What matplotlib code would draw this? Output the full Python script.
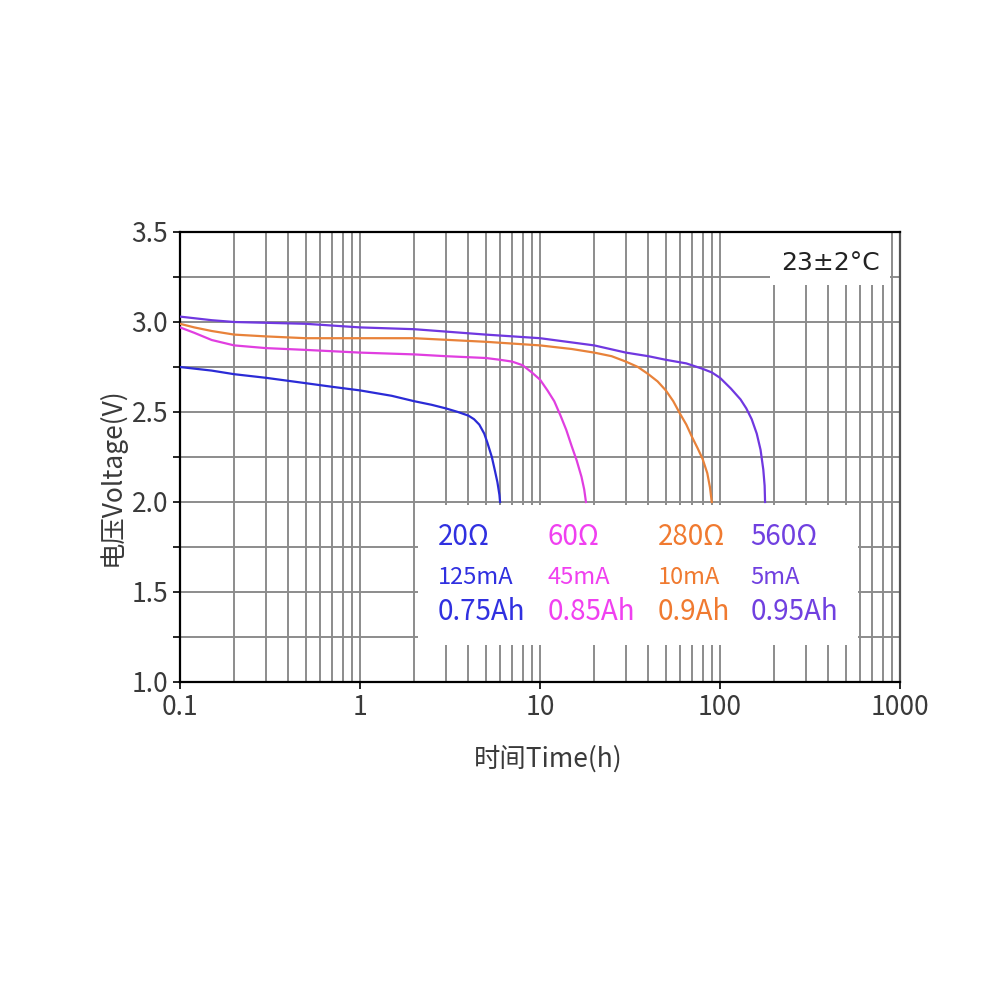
import numpy as np
import matplotlib
matplotlib.use("Agg")
import matplotlib.pyplot as plt
from matplotlib.patches import Rectangle
from matplotlib.ticker import FixedLocator, LogLocator, NullFormatter

plt.rcParams["font.family"] = ["Noto Sans CJK SC", "DejaVu Sans"]
plt.rcParams["axes.unicode_minus"] = False

# 放电曲线 (时间 h, 电压 V)
t_20 = [0.1, 0.15, 0.2, 0.3, 0.5, 0.7, 1, 1.5, 2, 2.5, 3, 3.5, 4, 4.3, 4.6, 4.9,
        5.1, 5.4, 5.6, 5.8, 5.95, 6.0]
v_20 = [2.75, 2.73, 2.71, 2.69, 2.66, 2.64, 2.62, 2.59, 2.56, 2.54, 2.52, 2.50, 2.48,
        2.46, 2.43, 2.38, 2.33, 2.25, 2.18, 2.11, 2.04, 2.0]

t_60 = [0.1, 0.12, 0.15, 0.2, 0.3, 0.5, 1, 2, 3, 5, 6, 7, 8, 9, 10, 11, 12, 13, 14,
        15, 16, 17, 17.6, 18]
v_60 = [2.97, 2.94, 2.90, 2.87, 2.855, 2.845, 2.83, 2.82, 2.81, 2.80, 2.79, 2.78, 2.76,
        2.72, 2.68, 2.62, 2.56, 2.48, 2.40, 2.31, 2.23, 2.14, 2.07, 2.0]

t_280 = [0.1, 0.12, 0.15, 0.2, 0.3, 0.5, 1, 2, 5, 10, 15, 20, 25, 30, 35, 40, 45, 50,
         55, 60, 65, 70, 75, 80, 85, 88, 90]
v_280 = [2.99, 2.97, 2.95, 2.93, 2.92, 2.91, 2.91, 2.91, 2.89, 2.87, 2.85, 2.83, 2.81,
         2.78, 2.75, 2.71, 2.67, 2.62, 2.56, 2.49, 2.43, 2.36, 2.30, 2.24, 2.16, 2.08, 2.0]

t_560 = [0.1, 0.15, 0.2, 0.5, 1, 2, 5, 10, 20, 30, 40, 50, 65, 80, 90, 100, 115, 130,
         140, 150, 160, 168, 174, 177, 178]
v_560 = [3.03, 3.01, 3.00, 2.99, 2.97, 2.96, 2.93, 2.91, 2.87, 2.83, 2.81, 2.79, 2.77,
         2.74, 2.72, 2.69, 2.63, 2.57, 2.52, 2.46, 2.38, 2.29, 2.18, 2.09, 2.0]

curve_colors = ["#2b2bd6", "#e03ee0", "#e8823a", "#7038e0"]
text_colors = ["#3030e0", "#f040f0", "#f07a30", "#7040e0"]
resist = ["20Ω", "60Ω", "280Ω", "560Ω"]
current = ["125mA", "45mA", "10mA", "5mA"]
capacity = ["0.75Ah", "0.85Ah", "0.9Ah", "0.95Ah"]

fig = plt.figure(figsize=(10, 10), dpi=100)
ax = fig.add_axes([0.18, 0.318, 0.72, 0.45])

ax.set_xscale("log")
ax.set_xlim(0.1, 1000)
ax.set_ylim(1.0, 3.5)

ax.xaxis.set_major_locator(FixedLocator([0.1, 1, 10, 100, 1000]))
ax.set_xticklabels(["0.1", "1", "10", "100", "1000"])
ax.xaxis.set_minor_locator(LogLocator(base=10, subs=np.arange(2, 10)))
ax.xaxis.set_minor_formatter(NullFormatter())
ax.yaxis.set_major_locator(FixedLocator([1.0, 1.5, 2.0, 2.5, 3.0, 3.5]))
ax.set_yticklabels(["1.0", "1.5", "2.0", "2.5", "3.0", "3.5"])
ax.yaxis.set_minor_locator(FixedLocator([1.25, 1.75, 2.25, 2.75, 3.25]))

ax.set_axisbelow(True)
ax.grid(which="both", axis="x", color="#8c8c8c", linewidth=1.4)
ax.grid(which="both", axis="y", color="#8c8c8c", linewidth=1.4)

ax.tick_params(axis="both", which="major", labelsize=19, labelcolor="#3a3a3a",
               length=5, width=1.2, color="black", direction="out")
ax.tick_params(axis="y", which="minor", length=5, width=1.2, direction="out")
ax.tick_params(axis="x", which="minor", length=0)
for s in ax.spines.values():
    s.set_color("black")
    s.set_linewidth(1.6)
ax.spines["right"].set_color("#555555")

for t, v, c in zip([t_20, t_60, t_280, t_560], [v_20, v_60, v_280, v_560], curve_colors):
    ax.plot(t, v, color=c, linewidth=1.6, zorder=3)

# 图例框
ax.add_patch(Rectangle((0.331, 0.082), 0.611, 0.311, transform=ax.transAxes,
                       facecolor="white", edgecolor="none", zorder=1.5))
col_x = [0.358, 0.511, 0.664, 0.792]
for i in range(4):
    ax.text(col_x[i], 0.322, resist[i], transform=ax.transAxes, color=text_colors[i],
            fontsize=20, va="center", ha="left", zorder=4)
    ax.text(col_x[i], 0.233, current[i], transform=ax.transAxes, color=text_colors[i],
            fontsize=17, va="center", ha="left", zorder=4)
    ax.text(col_x[i], 0.156, capacity[i], transform=ax.transAxes, color=text_colors[i],
            fontsize=20, va="center", ha="left", zorder=4)

# 温度标注
ax.add_patch(Rectangle((0.819, 0.882), 0.167, 0.118, transform=ax.transAxes,
                       facecolor="white", edgecolor="none", zorder=1.5))
ax.text(0.903, 0.931, "23±2°C", transform=ax.transAxes, fontsize=18,
        family=["DejaVu Sans"], ha="center", va="center", color="#222222", zorder=4)

ax.set_xlabel("时间Time(h)", fontsize=19, color="#3a3a3a")
ax.set_ylabel("电压Voltage(V)", fontsize=19, color="#3a3a3a")
ax.xaxis.set_label_coords(0.511, -0.14)
ax.yaxis.set_label_coords(-0.075, 0.456)

fig.savefig("out.png", dpi=100, facecolor="white")
